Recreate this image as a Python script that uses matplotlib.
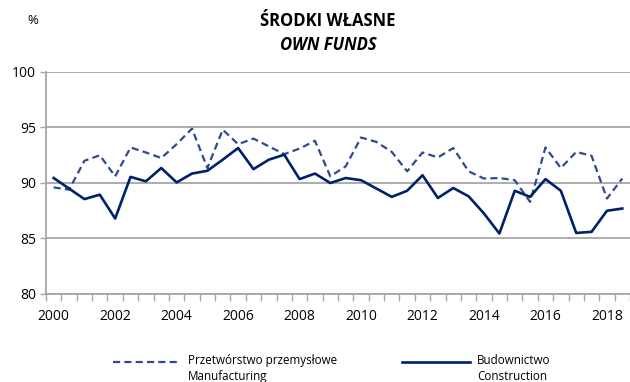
import matplotlib
matplotlib.use("Agg")
import matplotlib.pyplot as plt
from matplotlib.lines import Line2D
from matplotlib.ticker import FixedLocator, NullFormatter

plt.rcParams['font.family'] = ['Open Sans', 'DejaVu Sans']

# Half-yearly observations, 2000 H1 ... 2018 H2
years = [str(y) for y in range(2000, 2019, 2)]
manufacturing = [89.6, 89.4, 92.0, 92.5, 90.6, 93.2, 92.75, 92.25, 93.5, 94.9,
                 91.35, 94.8, 93.5, 94.0, 93.3, 92.6, 93.1, 93.8, 90.6, 91.5,
                 94.1, 93.7, 92.8, 91.05, 92.75, 92.3, 93.15, 91.05, 90.4, 90.45,
                 90.25, 88.3, 93.2, 91.35, 92.8, 92.45, 88.6, 90.4]
construction = [90.45, 89.5, 88.55, 88.95, 86.8, 90.55, 90.15, 91.35, 90.05, 90.85,
                91.1, 92.1, 93.15, 91.25, 92.1, 92.55, 90.35, 90.85, 90.0, 90.45,
                90.25, 89.5, 88.75, 89.3, 90.7, 88.65, 89.55, 88.8, 87.25, 85.45,
                89.3, 88.75, 90.35, 89.3, 85.5, 85.6, 87.5, 87.7]

label_manuf = "Przetwórstwo przemysłowe\nManufacturing"
label_constr = "Budownictwo\nConstruction"

c_manuf = "#2F4A8E"
c_constr = "#00206A"
grid_c = "#A6A6A6"
dash = (0, (3.2, 1.9))

fig = plt.figure(figsize=(6.3, 3.82), dpi=100)
ax = fig.add_axes([46 / 630, 1 - 294 / 382, 584 / 630, (294 - 72) / 382])

n = len(construction)
x = list(range(n))
ax.plot(x, manufacturing, color=c_manuf, lw=1.6, ls=dash, zorder=3)
ax.plot(x, construction, color=c_constr, lw=1.9, zorder=4)

ax.set_xlim(-0.5, n - 0.5)
ax.set_ylim(80, 100)
ax.set_yticks([80, 85, 90, 95, 100])
ax.yaxis.grid(True, color=grid_c, lw=1.3)
ax.set_axisbelow(True)

ax.set_xticks(list(range(0, n, 4)))
ax.set_xticklabels(years)
ax.xaxis.set_minor_locator(FixedLocator([i - 0.5 for i in range(n + 1)]))
ax.xaxis.set_minor_formatter(NullFormatter())
ax.tick_params(axis='x', which='major', length=0, pad=11, labelsize=10)
ax.tick_params(axis='x', which='minor', length=5, width=1.0, color=grid_c)
ax.tick_params(axis='y', length=4, width=1.0, color=grid_c, pad=3, labelsize=10)

for side in ('top', 'right'):
    ax.spines[side].set_visible(False)
for side in ('left', 'bottom'):
    ax.spines[side].set_color(grid_c)
    ax.spines[side].set_linewidth(1.3)

fig.text(33 / 630, 1 - 20 / 382, "%", ha='center', va='center', fontsize=9.5)
fig.text(328 / 630, 1 - 21 / 382, "ŚRODKI WŁASNE", ha='center', va='center',
         fontsize=12, fontweight='bold')
fig.text(328 / 630, 1 - 45 / 382, "OWN FUNDS", ha='center', va='center',
         fontsize=12, fontweight='bold', fontstyle='italic')

# legend
ly = 1 - 362 / 382
fig.add_artist(Line2D([113 / 630, 181 / 630], [ly, ly], color=c_manuf, lw=1.6,
                      ls=dash, transform=fig.transFigure))
fig.add_artist(Line2D([402 / 630, 470 / 630], [ly, ly], color=c_constr, lw=1.9,
                      transform=fig.transFigure))
fig.text(188 / 630, ly + 8 / 382, label_manuf, ha='left', va='top', fontsize=8.4,
         linespacing=1.3)
fig.text(477 / 630, ly + 8 / 382, label_constr, ha='left', va='top', fontsize=8.4,
         linespacing=1.3)

fig.savefig("out.png", dpi=100)
